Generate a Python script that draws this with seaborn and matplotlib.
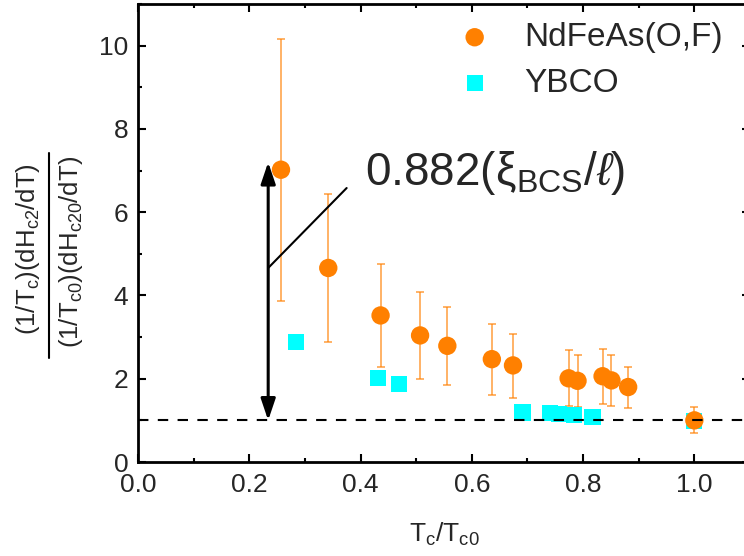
import numpy as np
import pandas as pd
import matplotlib
matplotlib.use("Agg")
import matplotlib.pyplot as plt
import seaborn as sns
from matplotlib.lines import Line2D
from matplotlib.ticker import MultipleLocator

# NdFeAs(O,F): reduced Tc, normalised slope ratio, error-bar limits
nd_x = [0.257, 0.342, 0.436, 0.507, 0.556, 0.636, 0.674, 0.774, 0.790, 0.835, 0.851, 0.881, 1.000]
nd_y = [7.02, 4.66, 3.52, 3.04, 2.79, 2.47, 2.32, 2.01, 1.95, 2.06, 1.96, 1.80, 1.00]
nd_hi = [10.16, 6.44, 4.75, 4.08, 3.72, 3.31, 3.08, 2.68, 2.58, 2.71, 2.58, 2.29, 1.31]
nd_lo = [3.87, 2.88, 2.28, 1.99, 1.84, 1.62, 1.54, 1.35, 1.33, 1.39, 1.35, 1.30, 0.70]

# YBCO
yb_x = [0.284, 0.431, 0.469, 0.691, 0.741, 0.756, 0.784, 0.817, 1.000]
yb_y = [2.89, 2.02, 1.875, 1.19, 1.185, 1.15, 1.13, 1.09, 0.99]

series_names = ["NdFeAs(O,F)", "YBCO"]
x_ticks = [0.0, 0.2, 0.4, 0.6, 0.8, 1.0]
y_ticks = [0, 2, 4, 6, 8, 10]

ORANGE = "#FF8000"
CYAN = "#00FFFF"

sns.set_style("ticks")
plt.rcParams["font.family"] = ["Liberation Sans", "DejaVu Sans"]
plt.rcParams["mathtext.fontset"] = "custom"
plt.rcParams["mathtext.rm"] = "Liberation Sans"
plt.rcParams["mathtext.it"] = "Liberation Sans:italic"
plt.rcParams["mathtext.bf"] = "Liberation Sans:bold"

W, H = 744, 556
fig = plt.figure(figsize=(W / 100, H / 100), dpi=100)
ax = fig.add_axes([138 / W, (H - 462) / H, (750 - 138) / W, (462 - 4) / H])

df_nd = pd.DataFrame({"x": nd_x, "y": nd_y})
df_yb = pd.DataFrame({"x": yb_x, "y": yb_y})

# error bars below markers
nd_y_arr = np.array(nd_y)
yerr = [nd_y_arr - np.array(nd_lo), np.array(nd_hi) - nd_y_arr]
ax.errorbar(nd_x, nd_y, yerr=yerr, fmt="none", ecolor=ORANGE, alpha=0.6,
            elinewidth=1.4, capsize=3.2, capthick=1.4, zorder=2)

sns.scatterplot(data=df_yb, x="x", y="y", marker="s", color=CYAN, s=135,
                edgecolor="none", label=series_names[1], ax=ax, zorder=3)
sns.scatterplot(data=df_nd, x="x", y="y", marker="o", color=ORANGE, s=175,
                edgecolor="none", label=series_names[0], ax=ax, zorder=4)

# reference level at 1
ax.axhline(1.0, color="black", lw=1.5, ls=(0, (5, 4.5)), zorder=5)

# double arrow and callout
ax.annotate("", xy=(0.234, 7.2), xytext=(0.234, 1.0),
            arrowprops=dict(arrowstyle="<|-|>,head_length=0.65,head_width=0.22",
                            lw=2.2, color="black", mutation_scale=20,
                            shrinkA=0, shrinkB=0), zorder=6)
ax.plot([0.234, 0.375], [4.66, 6.58], color="black", lw=1.5, zorder=6)
ax.text(0.408, 6.66, r"0.882($\mathregular{\xi_{BCS}}$/$\ell$)",
        fontsize=33, va="baseline", ha="left", zorder=6)

ax.set_xlim(0, 1.1)
ax.set_ylim(0, 11)
ax.set_xticks(x_ticks)
ax.set_xticklabels([f"{v:.1f}" for v in x_ticks])
ax.set_yticks(y_ticks)
ax.set_yticklabels([str(v) for v in y_ticks])
ax.xaxis.set_minor_locator(MultipleLocator(0.1))
ax.yaxis.set_minor_locator(MultipleLocator(1))
ax.tick_params(which="both", direction="in", top=True, right=True, width=1.5,
               labelsize=19, color="black")
ax.tick_params(axis="y", pad=7)
ax.tick_params(axis="x", pad=8)
ax.tick_params(which="major", length=6)
ax.tick_params(which="minor", length=3)
for sp in ax.spines.values():
    sp.set_linewidth(2)
    sp.set_color("black")

ax.set_xlabel(r"T$_\mathregular{c}$/T$_\mathregular{c0}$", fontsize=19, labelpad=17)
ax.set_ylabel("")

# stacked fraction as y label
fig.text(28 / W, 1 - 249 / H, r"(1/T$_\mathregular{c}$)(dH$_\mathregular{c2}$/dT)",
         rotation=90, ha="center", va="center", fontsize=18.5)
fig.text(71 / W, 1 - 252 / H, r"(1/T$_\mathregular{c0}$)(dH$_\mathregular{c20}$/dT)",
         rotation=90, ha="center", va="center", fontsize=18.5)
fig.add_artist(Line2D([49 / W, 49 / W], [1 - 153 / H, 1 - 358 / H],
                      transform=fig.transFigure, color="black", lw=1.5))

handles, labels = ax.get_legend_handles_labels()
order = [labels.index(n) for n in series_names]
ax.legend([handles[i] for i in order], [labels[i] for i in order],
          loc="upper left", bbox_to_anchor=(458 / W, 1 - 22 / H),
          bbox_transform=fig.transFigure, frameon=False, fontsize=24,
          borderpad=0, borderaxespad=0, handlelength=1.0, handletextpad=1.0,
          labelspacing=0.45)

fig.savefig("out.png", dpi=100)
